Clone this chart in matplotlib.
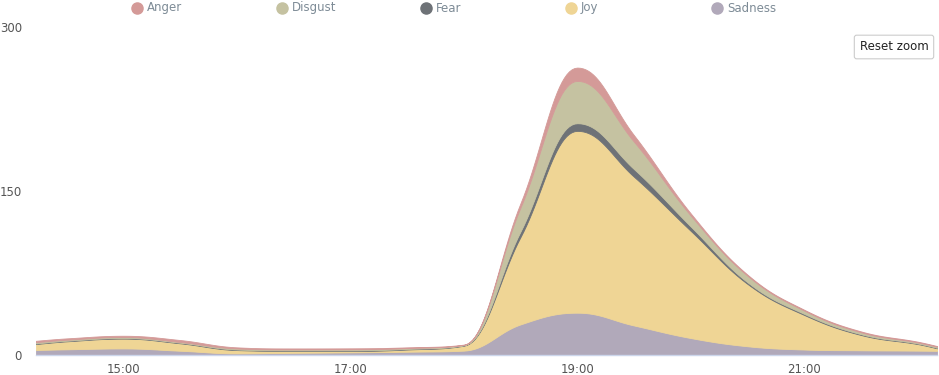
import matplotlib
matplotlib.use("Agg")
import matplotlib.pyplot as plt
import numpy as np

# time of each sample, in decimal hours
times = [14.23, 14.5, 15.0, 15.5, 16.0, 16.5, 17.0, 17.5, 18.0, 18.5, 19.0,
         19.5, 20.0, 20.5, 21.0, 21.5, 22.0, 22.17]

# series values, stacked from the bottom up: Sadness, Joy, Fear, Disgust, Anger
sadness = [4.6, 5.2, 6, 3.9, 1.5, 2, 2.4, 3, 4, 28, 38.7, 27, 15.5, 8, 5, 4.3, 4, 3.8]
joy = [5.4, 7.3, 9, 6.8, 3, 1.8, 1.3, 2, 4.5, 80, 166.3, 136, 98, 57, 31.6, 14, 6, 2.3]
fear = [0.5, 0.5, 0.5, 0.5, 0.5, 0.4, 0.5, 0.5, 0.3, 5, 7, 7, 4, 1.5, 1, 0.7, 0.5, 0.5]
disgust = [1.2, 1.0, 1, 0.7, 1, 0.9, 1, 0.8, 0.4, 22, 38.7, 25, 10, 6, 3, 1.8, 1, 1]
anger = [1.3, 1.2, 1.1, 1.8, 1, 0.9, 0.9, 0.7, 0.3, 4, 12.2, 6, 2, 1, 0.8, 0.8, 0.7, 0.6]

legend_names = ["Anger", "Disgust", "Fear", "Joy", "Sadness"]
colors = {"Anger": "#d49a98", "Disgust": "#c5c2a1", "Fear": "#6e7277",
          "Joy": "#efd595", "Sadness": "#b1a9ba"}

tick_pos = [15, 17, 19, 21]
tick_labels = ["15:00", "17:00", "19:00", "21:00"]
y_ticks = [0, 150, 300]


def smooth(x, y, n=24):
    '''Highcharts-style spline through the points, sampled for drawing'''
    x = np.asarray(x, float)
    y = np.asarray(y, float)
    k = len(x)
    lc = [None] * k
    rc = [None] * k
    for i in range(k):
        if 0 < i < k - 1:
            lx = (1.5 * x[i] + x[i - 1]) / 2.5
            ly = (1.5 * y[i] + y[i - 1]) / 2.5
            rx = (1.5 * x[i] + x[i + 1]) / 2.5
            ry = (1.5 * y[i] + y[i + 1]) / 2.5
            corr = (ry - ly) * (rx - x[i]) / (rx - lx) + y[i] - ry
            ly += corr
            ry += corr
            if ly > max(y[i - 1], y[i]):
                ly = max(y[i - 1], y[i]); ry = 2 * y[i] - ly
            elif ly < min(y[i - 1], y[i]):
                ly = min(y[i - 1], y[i]); ry = 2 * y[i] - ly
            if ry > max(y[i + 1], y[i]):
                ry = max(y[i + 1], y[i]); ly = 2 * y[i] - ry
            elif ry < min(y[i + 1], y[i]):
                ry = min(y[i + 1], y[i]); ly = 2 * y[i] - ry
            lc[i] = (lx, ly)
            rc[i] = (rx, ry)
        else:
            lc[i] = (x[i], y[i])
            rc[i] = (x[i], y[i])
    xs, ys = [x[0]], [y[0]]
    t = np.linspace(0, 1, n)[1:]
    for i in range(k - 1):
        p0 = np.array([x[i], y[i]])
        p1 = np.array(rc[i])
        p2 = np.array(lc[i + 1])
        p3 = np.array([x[i + 1], y[i + 1]])
        pts = ((1 - t) ** 3)[:, None] * p0 + (3 * (1 - t) ** 2 * t)[:, None] * p1 \
            + (3 * (1 - t) * t ** 2)[:, None] * p2 + (t ** 3)[:, None] * p3
        xs.extend(pts[:, 0])
        ys.extend(pts[:, 1])
    return np.array(xs), np.array(ys)


fig = plt.figure(figsize=(9.39, 3.75), dpi=100)
ax = fig.add_axes([36 / 939, 20 / 375, 901 / 939, 328 / 375])

stack = [("Sadness", sadness), ("Joy", joy), ("Fear", fear),
         ("Disgust", disgust), ("Anger", anger)]
base = np.zeros(len(times))
sx, prev = smooth(times, base)
for name, vals in stack:
    top = base + np.array(vals)
    _, cur = smooth(times, top)
    ax.fill_between(sx, prev, cur, color=colors[name], lw=0.6,
                    edgecolor=colors[name])
    prev = cur
    base = top

ax.set_xlim(times[0], times[-1])
ax.set_ylim(0, 300)
for s in ["top", "right", "left"]:
    ax.spines[s].set_visible(False)
ax.spines["bottom"].set_color("#ccd6eb")
ax.spines["bottom"].set_linewidth(1)
ax.set_xticks(tick_pos)
ax.set_xticklabels(tick_labels)
ax.set_yticks(y_ticks)
ax.set_yticklabels([str(v) for v in y_ticks])
ax.tick_params(axis="x", length=0, pad=6, labelsize=8.5, labelcolor="#555555")
ax.tick_params(axis="y", length=0, pad=10, labelsize=8.5, labelcolor="#555555")

# legend across the top
marker_x = [137, 282, 426, 571, 717]
for name, mx in zip(legend_names, marker_x):
    fig.lines.append(plt.Line2D([mx / 939], [1 - 8 / 375], marker="o", ls="",
                                markersize=8, color=colors[name],
                                transform=fig.transFigure))
    fig.text((mx + 10) / 939, 1 - 8 / 375, name, fontsize=8.5, color="#7d8b96",
             va="center", ha="left")

# reset zoom button
fig.text(894 / 939, 1 - 47 / 375, "Reset zoom", fontsize=8.5, color="#222222",
         ha="center", va="center",
         bbox=dict(boxstyle="round,pad=0.45,rounding_size=0.2", fc="white",
                   ec="#cccccc", lw=0.8))

fig.savefig("out.png", dpi=100)
